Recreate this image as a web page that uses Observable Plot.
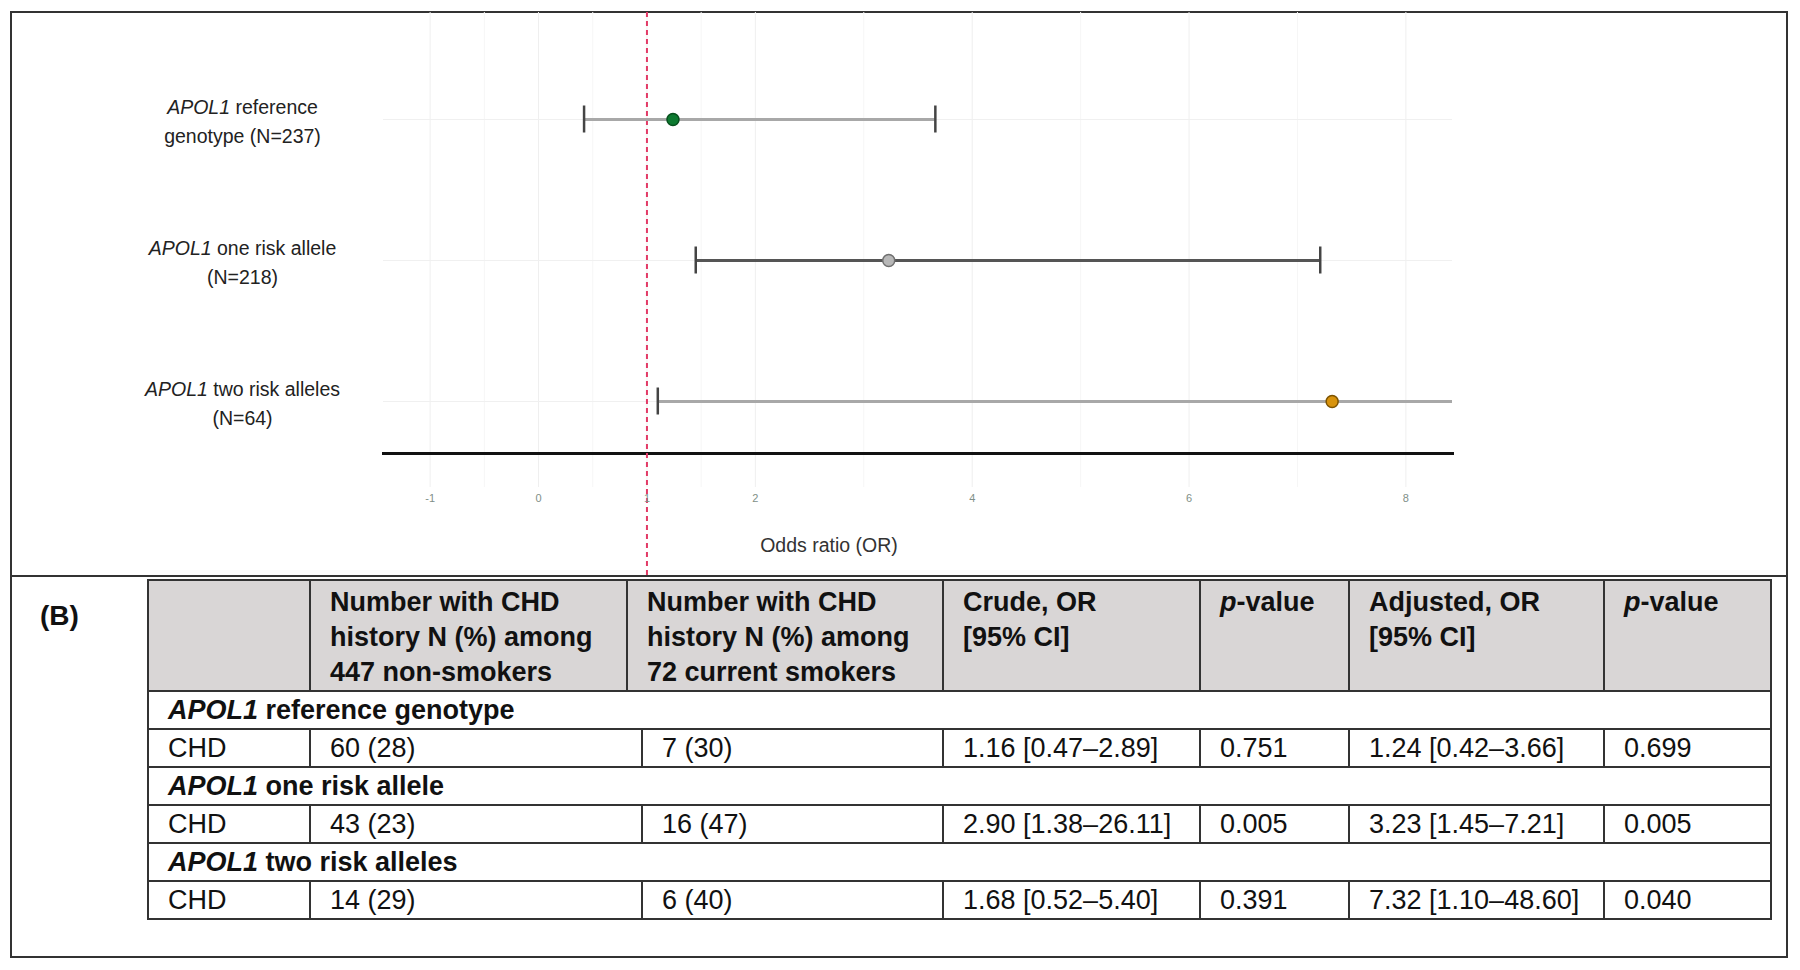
<!DOCTYPE html>
<html>
<head>
<meta charset="utf-8">
<script src="https://cdn.jsdelivr.net/npm/d3@7"></script>
<script src="https://cdn.jsdelivr.net/npm/@observablehq/plot@0.6"></script>
<style>
  html, body { margin: 0; padding: 0; background: #fff; }
  body { width: 1800px; height: 970px; position: relative; overflow: hidden; font-family: "Liberation Sans", Arial, sans-serif; }
  #outer { position: absolute; left: 10px; top: 11px; width: 1778px; height: 947px; box-sizing: border-box; border: 2px solid #333; }
  #sep { position: absolute; left: 10px; top: 575px; width: 1778px; height: 2px; background: #333; }
  #panelA { position: absolute; left: 0; top: 0; }
  #labelB { position: absolute; left: 40px; top: 598px; font-weight: bold; font-size: 28px; line-height: 36px; color: #111; }
  #tbl { position: absolute; left: 147px; top: 579px; border-collapse: collapse; table-layout: fixed; width: 1624px; font-size: 27px; color: #111; }
  #tbl td { border: 2px solid #333; padding: 0 4px 0 19px; box-sizing: border-box; white-space: nowrap; overflow: hidden; }
  #tbl tr.head td { background: #d9d6d6; font-weight: bold; vertical-align: top; height: 108px; line-height: 35px; padding-top: 4px; padding-bottom: 0; }
  #tbl tr.grp td { font-weight: bold; height: 38px; vertical-align: middle; line-height: 34px; }
  #tbl tr.row td { height: 38px; vertical-align: middle; line-height: 34px; }
</style>
</head>
<body>
<div id="outer"></div>
<div id="sep"></div>
<div id="panelA"></div>
<div id="labelB">(B)</div>
<table id="tbl"></table>
<script>
// ---------------- data ----------------
const groups = ["APOL1 reference genotype", "APOL1 one risk allele", "APOL1 two risk alleles"];
const forestLabels = ["APOL1 reference\ngenotype (N=237)", "APOL1 one risk allele\n(N=218)", "APOL1 two risk alleles\n(N=64)"];
const rowType = ["CHD", "CHD", "CHD"];
const nonSmokers = ["60 (28)", "43 (23)", "14 (29)"];
const smokers = ["7 (30)", "16 (47)", "6 (40)"];
const crudeOR = [1.16, 2.90, 1.68];
const crudeLo = [0.47, 1.38, 0.52];
const crudeHi = [2.89, 26.11, 5.40];
const crudeP = ["0.751", "0.005", "0.391"];
const adjOR = [1.24, 3.23, 7.32];
const adjLo = [0.42, 1.45, 1.10];
const adjHi = [3.66, 7.21, 48.60];
const adjP = ["0.699", "0.005", "0.040"];
const headerLines = [
  [],
  ["Number with CHD", "history N (%) among", "447 non-smokers"],
  ["Number with CHD", "history N (%) among", "72 current smokers"],
  ["Crude, OR", "[95% CI]"],
  ["p-value"],
  ["Adjusted, OR", "[95% CI]"],
  ["p-value"]
];
const xTicks = [-1, 0, 1, 2, 4, 6, 8];
const xMinorGrid = [-0.5, 0.5, 1.5, 3, 5, 7];
const xDomain = [-1.43, 8.43];
const refOR = [1];
const xLabel = "Odds ratio (OR)";

// ---------------- styles ----------------
const pointFill = ["#0d7a30", "#b8b8b8", "#d8930d"];
const pointStroke = ["#07501d", "#707070", "#7d5300"];
const ciStroke = ["#a8a8a8", "#555555", "#a8a8a8"];

// ---------------- panel A: forest plot ----------------
const rows = forestLabels.map((label, i) => ({
  label, or: adjOR[i], lo: adjLo[i], hi: adjHi[i],
  fill: pointFill[i], stroke: pointStroke[i], ci: ciStroke[i]
}));
const caps = rows.flatMap(d => [{label: d.label, x: d.lo}, {label: d.label, x: d.hi}]);

const plotA = Plot.plot({
  width: 1800,
  height: 576,
  marginLeft: 383,
  marginRight: 348,
  marginTop: 66,
  marginBottom: 123,
  style: {fontFamily: "'Liberation Sans', Arial, sans-serif", background: "transparent", overflow: "visible"},
  color: {type: "identity"},
  x: {domain: xDomain, axis: null},
  y: {type: "band", domain: forestLabels, paddingInner: 0.265, paddingOuter: 0, axis: null},
  marks: [
    Plot.gridX(xMinorGrid, {stroke: "#f6f6f6", strokeOpacity: 1, insetTop: -54, insetBottom: -34}),
    Plot.gridX(xTicks, {stroke: "#efefef", strokeOpacity: 1, insetTop: -54, insetBottom: -34}),
    Plot.gridY(forestLabels, {stroke: "#f0f0f0", strokeOpacity: 1}),
    Plot.frame({anchor: "bottom", stroke: "#111", strokeWidth: 3}),
    Plot.ruleX(refOR, {stroke: "#e23a66", strokeWidth: 2, strokeDasharray: "5,4", insetTop: -54, insetBottom: -123}),
    Plot.axisX(xTicks, {
      anchor: "bottom", tickSize: 0, tickPadding: 41, fontSize: 11, fill: "#7f8f88",
      tickFormat: d => (d < 0 ? "-" + Math.abs(d) : String(d)), label: null
    }),
    Plot.ruleY(rows, {y: "label", x1: "lo", x2: "hi", stroke: "ci", strokeWidth: 3, clip: true}),
    Plot.tickX(caps, {x: "x", y: "label", stroke: "#444", strokeWidth: 2.5, insetTop: 38.5, insetBottom: 38.5, clip: true}),
    Plot.dot(rows, {x: "or", y: "label", r: 6, fill: "fill", stroke: "stroke", strokeWidth: 1.5}),
    Plot.text(rows, {y: "label", text: "label", frameAnchor: "left", dx: -141, textAnchor: "middle",
      lineHeight: 1.45, fontSize: 19.5, fill: "#222"}),
    Plot.text([xLabel], {text: d => d, frameAnchor: "bottom", dx: -89, dy: 98, fontSize: 19.5, fill: "#333"})
  ]
});
document.getElementById("panelA").appendChild(plotA);

// italicise the gene name in the row labels
function italGene(node) {
  const t = node.textContent;
  const sel = d3.select(node);
  sel.text("");
  sel.append("tspan").attr("font-style", "italic").text("APOL1");
  sel.append("tspan").text(t.slice(5));
}
d3.select(plotA).selectAll("text").each(function() {
  const spans = Array.from(this.children).filter(c => c.tagName === "tspan");
  if (spans.length) {
    spans.forEach(s => { if (s.textContent.startsWith("APOL1")) italGene(s); });
  } else if (this.textContent.startsWith("APOL1")) {
    italGene(this);
  }
});

// ---------------- panel B: table ----------------
function rich(s) {
  if (s.startsWith("APOL1")) return "<i>APOL1</i>" + s.slice(5);
  if (s.startsWith("p-")) return "<i>p</i>" + s.slice(1);
  return s;
}
const fmtCI = (o, l, h) => `${o.toFixed(2)} [${l.toFixed(2)}–${h.toFixed(2)}]`;
const tbl = document.getElementById("tbl");
let html = "<colgroup>" + [162, 317, 15, 301, 257, 149, 255, 167].map(w => `<col style="width:${w}px">`).join("") + "</colgroup>";
const headSpans = [1, 1, 2, 1, 1, 1, 1];
html += "<tr class='head'>" + headerLines.map((lines, i) =>
  `<td colspan="${headSpans[i]}">${lines.map(rich).join("<br>")}</td>`).join("") + "</tr>";
groups.forEach((g, i) => {
  html += `<tr class='grp'><td colspan="8">${rich(g)}</td></tr>`;
  html += "<tr class='row'>" +
    `<td>${rowType[i]}</td>` +
    `<td colspan="2">${nonSmokers[i]}</td>` +
    `<td>${smokers[i]}</td>` +
    `<td>${fmtCI(crudeOR[i], crudeLo[i], crudeHi[i])}</td>` +
    `<td>${crudeP[i]}</td>` +
    `<td>${fmtCI(adjOR[i], adjLo[i], adjHi[i])}</td>` +
    `<td>${adjP[i]}</td></tr>`;
});
tbl.innerHTML = html;
</script>
</body>
</html>
